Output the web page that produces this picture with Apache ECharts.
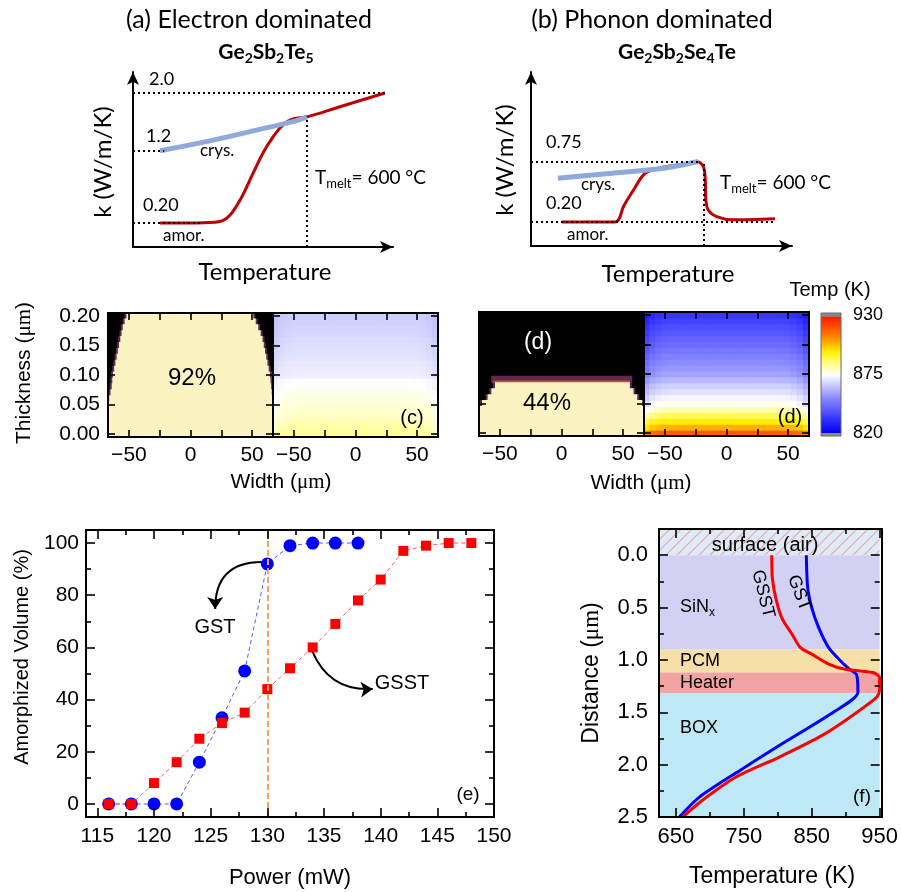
<!DOCTYPE html>
<html>
<head>
<meta charset="utf-8">
<script src="https://cdn.jsdelivr.net/npm/echarts@6.0.0/dist/echarts.min.js"></script>
<style>
html,body{margin:0;padding:0;background:#fff;}
#chart{width:901px;height:892px;}
</style>
</head>
<body>
<div id="chart"></div>
<script>
// ====================== DATA ======================
// (a) schematic k(T) of Ge2Sb2Te5 (temperature in arbitrary units 0-100)
const aAmorTemp = [10.4, 21.9, 31.5, 36.2, 41.2, 46.2, 50.0, 53.8, 57.7, 61.5, 66.9, 79.6, 96.9];
const aAmorK    = [0.20, 0.20, 0.21, 0.27, 0.52, 0.89, 1.17, 1.39, 1.56, 1.64, 1.67, 1.81, 2.00];
const aCrysTemp = [10.4, 25.8, 38.5, 51.5, 62.3, 66.9];
const aCrysK    = [1.20, 1.31, 1.41, 1.52, 1.61, 1.67];
const aLevels    = [2.0, 1.2, 0.20];
const aLevelEnds = [96.9, 12, 27];
const aMelt = [66.9, 1.67];
// (b) schematic k(T) of Ge2Sb2Se4Te
const bAmorTemp = [11.8, 32.2, 33.8, 35.4, 39.2, 43.0, 46.8, 52.0, 58.3, 64.1, 66.0, 66.7, 67.0, 67.9, 71.1, 77.5, 93.5];
const bAmorK    = [0.20, 0.20, 0.23, 0.34, 0.49, 0.63, 0.68, 0.71, 0.73, 0.75, 0.71, 0.62, 0.40, 0.31, 0.25, 0.22, 0.23];
const bCrysTemp = [10.3, 30.0, 50.0, 64.1];
const bCrysK    = [0.60, 0.645, 0.69, 0.755];
const bLevels    = [0.75, 0.20];
const bLevelEnds = [64.8, 93.5];
const bMelt = [66.3, 0.75];

// (c),(d) maps: cell centres
const widthCols = [-65,-60,-55,-50,-45,-40,-35,-30,-25,-20,-15,-10,-5,0,5,10,15,20,25,30,35,40,45,50,55,60,65];
const thickRows = [0.00,0.01,0.02,0.03,0.04,0.05,0.06,0.07,0.08,0.09,0.10,0.11,0.12,0.13,0.14,0.15,0.16,0.17,0.18,0.19,0.20];
// amorphized extent per thickness row (µm)
const gstAmorLeft   = [-67,-67,-67,-67,-67,-67,-66,-65,-64,-63.5,-63,-62,-61,-60,-59,-58,-57,-56,-55,-53.5,-52];
const gstAmorRight  = [67,67,67,67,67,67,66.5,66,65.5,65,64.5,63.5,62.5,61.5,60.5,59.5,58.5,57,55,53,51];
const gsstAmorLeft  = [-67,-67,-67,-67,-66.5,-64.5,-60,-57,-54,null,null,null,null,null,null,null,null,null,null,null,null];
const gsstAmorRight = [67,67,67,67,67,65.5,61.5,58.5,55.5,null,null,null,null,null,null,null,null,null,null,null,null];
const gsstFront = [0.09, -57, 57.5];   // melt-front row (thickness, left, right)
// temperature (K) at the centre of each thickness row, and edge cooling per column
const gstTempCenter  = [883.5,883,881.5,880,879.5,878.5,877.5,877,875.5,875,872,871.5,871,870,869.5,869,868.5,867.5,867,866.5,866];
const gsstTempCenter = [918,905,897,889.5,882,876.5,873.5,869.5,866.5,862,858,855.5,853.5,851,848.5,846,844,841.5,839.5,837,834];
const gstEdgeDrop  = [2.5,1.2,0.5,0.2,0,0,0,0,0,0,0,0,0,0,0,0,0,0,0,0,0,0,0,0.2,0.5,1.2,2.5];
const gsstEdgeDrop = [7,3.5,1.5,0.5,0.2,0,0,0,0,0,0,0,0,0,0,0,0,0,0,0,0,0,0.2,0.5,1.5,3.5,7];
const mapTicksX = [-50,-25,0,25,50];
const mapLabelsX = [-50,0,50];
const mapTicksY = [0,0.05,0.10,0.15,0.20];
const colorbarTicks = [820, 875, 930];

// (e) amorphized volume vs power
const powerGST  = [116,118,120,122,124,126,128,130,132,134,136,138];
const volGST    = [0,0,0,0,16,33,51,92,99,100,100,100];
const powerGSST = [116,118,120,122,124,126,128,130,132,134,136,138,140,142,144,146,148];
const volGSST   = [0,0,8,16,25,31,35,44,52,60,69,78,86,97,99,100,100];
const markPower = 130;
const powerTicks = [115,120,125,130,135,140,145,150];
const powerMinor = [117.5,122.5,127.5,132.5,137.5,142.5,147.5];
const volTicks = [0,20,40,60,80,100];
const volMinor = [10,30,50,70,90];
const gstArrow  = [[129.5, 92.7], [125.4, 74.7]];
const gsstArrow = [[134.0, 58.2], [139.3, 44.1]];

// (f) temperature vs depth
const gsstProfT = [791,792,797,806,821,833,850,875,899,940,950,950,945,899,860,801.5,738,689,660];
const gsstProfD = [0.0,0.22,0.41,0.60,0.755,0.88,0.945,1.04,1.09,1.12,1.17,1.29,1.36,1.58,1.74,1.93,2.12,2.34,2.5];
const gstProfT  = [842,844,850,860,874.6,894,906,916,918,884,801.5,743,684.5,655];
const gstProfD  = [0.0,0.31,0.50,0.69,0.88,1.02,1.09,1.14,1.31,1.49,1.82,2.06,2.31,2.5];
const layerNames  = ['surface (air)','SiNx','PCM','Heater','BOX'];
const layerTop    = [-0.25, 0.0, 0.90, 1.12, 1.32];
const layerBottom = [0.0, 0.90, 1.12, 1.32, 2.5];
const tempTicks = [650,750,850,950];
const tempMinor = [700,800,900];
const distTicks = [0,0.5,1.0,1.5,2.0,2.5];
const distMinor = [0.25,0.75,1.25,1.75,2.25];

// ====================== STYLE / LAYOUT ======================
const S = '"Liberation Sans", Arial, Helvetica, sans-serif';
const SERIF = '"Liberation Serif", "Times New Roman", serif';
const LATO = 'Lato, "Open Sans", sans-serif';
const tempColors = ['#0000f0','#2b2bff','#5a5aff','#8a8aff','#c4c4ff','#ffffff','#ffff80','#ffee00','#ff9900','#ff5500','#ff1a00'];
const layerColors = [null, '#d3d1f3', '#f7dfa9', '#f2a3a3', '#bfe8f7'];
const L = {
  a:{left:133, top:72, width:260, height:175},
  b:{left:531, top:72, width:261, height:174},
  c1:{left:108, top:313, width:165, height:124},
  c2:{left:273, top:313, width:165, height:124},
  d1:{left:479, top:312, width:165, height:124},
  d2:{left:644, top:312, width:165, height:124},
  cb:{left:821, top:313, width:20, height:123},
  e:{left:86, top:530, width:408, height:287},
  f:{left:659, top:529, width:223, height:288}
};
const gridKeys = ['a','b','c1','c2','d1','d2','cb','e','f'];
const GI = {}; gridKeys.forEach((k,i)=>GI[k]=i);
const grids = gridKeys.map(k=>{
  const g = L[k];
  const o = {left:g.left, top:g.top, width:g.width, height:g.height, containLabel:false};
  if (k==='c1' || k==='d1') { o.show = true; o.backgroundColor = '#000'; o.borderWidth = 0; }
  return o;
});

// ---------- axes ----------
const xAxes = [], yAxes = [];
const RANGE = {};
function push(list, o){ list.push(o); return list.length-1; }
function baseAx(gi,min,max,pos,inv){
  return {type:'value', gridIndex:gi, min, max, position:pos, inverse:!!inv,
    axisLine:{show:false, onZero:false}, splitLine:{show:false}, axisLabel:{show:false}, axisTick:{show:false}};
}
function lb(o, vals, size, margin, fmt){ o.axisLabel = {show:true, customValues:vals, fontSize:size, fontFamily:S, color:'#000', margin, formatter:fmt}; return o; }
const minus = v => (v < 0 ? '\u2212' + (-v) : '' + v);
function framed(k, xr, yr, c){
  const gi = GI[k];
  RANGE[k] = {x:xr, y:yr, inv:!!c.yInv};
  const xo = baseAx(gi,xr[0],xr[1],'bottom'); if (c.xLabels) lb(xo, c.xLabels, c.size, c.xMargin, c.xFmt);
  const yo = baseAx(gi,yr[0],yr[1],'left',c.yInv); if (c.yLabels) lb(yo, c.yLabels, c.size, c.yMargin, c.yFmt);
  return [push(xAxes, xo), push(yAxes, yo)];
}
function arrowAxis(gi,min,max){
  return {type:'value', gridIndex:gi, min, max, axisLine:{show:true, onZero:false, symbol:['none','arrow'], symbolSize:[9,13], lineStyle:{color:'#000', width:2}},
    axisTick:{show:false}, axisLabel:{show:false}, splitLine:{show:false}};
}
const AX = {};
AX.a = [push(xAxes, arrowAxis(GI.a,0,100)), push(yAxes, arrowAxis(GI.a,-0.132,2.291))];
AX.b = [push(xAxes, arrowAxis(GI.b,0,100)), push(yAxes, arrowAxis(GI.b,-0.02,1.575))];
const mapX = [-67, 67], mapY = [-0.005, 0.205];
AX.c1 = framed('c1', mapX, mapY, {xLabels:mapLabelsX, size:21, xMargin:8, xFmt:minus, yLabels:mapTicksY, yMargin:8, yFmt:v=>v.toFixed(2)});
AX.c2 = framed('c2', mapX, mapY, {xLabels:mapLabelsX, size:21, xMargin:8, xFmt:minus});
AX.d1 = framed('d1', mapX, mapY, {xLabels:mapLabelsX, size:21, xMargin:8, xFmt:minus});
AX.d2 = framed('d2', mapX, mapY, {xLabels:mapLabelsX, size:21, xMargin:8, xFmt:minus});
AX.cb = [push(xAxes, baseAx(GI.cb,0,1,'bottom')),
  push(yAxes, lb(baseAx(GI.cb,817.2,931.9,'right'), colorbarTicks, 18, 12, v=>''+v))];
AX.e = framed('e', [114,150], [-5,105], {xLabels:powerTicks, size:21, xMargin:9, xFmt:v=>''+v, yLabels:volTicks, yMargin:7, yFmt:v=>''+v});
AX.f = framed('f', [625,950], [-0.25,2.5], {xLabels:tempTicks, size:22, xMargin:9, xFmt:v=>''+v, yInv:true, yLabels:distTicks, yMargin:11, yFmt:v=>v.toFixed(1)});

// ---------- helpers for series ----------
const zip = (a,b) => a.map((v,i)=>[v,b[i]]);
function guides(levels, ends, melt, ymin){
  const d = levels.map((v,i)=>[{coord:[0,v]},{coord:[ends[i],v]}]);
  d.push([{coord:[melt[0],ymin]},{coord:[melt[0],melt[1]]}]);
  return d;
}
// tick marks as markLine segments on the panel's own axes (length converted from px to data units)
function tickSegments(k, xMaj, xMin, yMaj, yMin, majLen, minLen){
  const r = RANGE[k], g = L[k];
  const dxu = (r.x[1]-r.x[0]) / g.width, dyu = (r.y[1]-r.y[0]) / g.height;
  const yB = r.inv ? r.y[1] : r.y[0], yT = r.inv ? r.y[0] : r.y[1], sg = r.inv ? -1 : 1;
  const segs = [];
  const doX = (vals, len) => (vals||[]).forEach(v=>{
    segs.push([{coord:[v, yB]}, {coord:[v, yB + sg*len*dyu]}]);
    segs.push([{coord:[v, yT]}, {coord:[v, yT - sg*len*dyu]}]);
  });
  const doY = (vals, len) => (vals||[]).forEach(v=>{
    segs.push([{coord:[r.x[0], v]}, {coord:[r.x[0] + len*dxu, v]}]);
    segs.push([{coord:[r.x[1], v]}, {coord:[r.x[1] - len*dxu, v]}]);
  });
  doX(xMaj, majLen); doX(xMin, minLen); doY(yMaj, majLen); doY(yMin, minLen);
  return segs;
}
function boxOf(cs){ return {x:cs.x, y:cs.y, width:cs.width, height:cs.height}; }
function cellItem(params, api){
  const x = api.value(0), t = api.value(1);
  const p0 = api.coord([x-2.5, t+0.005]), p1 = api.coord([x+2.5, t-0.005]);
  const r = echarts.graphic.clipRectByRect({x:p0[0]-0.5, y:p0[1]-0.5, width:p1[0]-p0[0]+1, height:p1[1]-p0[1]+1}, boxOf(params.coordSys));
  return r ? {type:'rect', shape:r, style:{fill:api.visual('color')}} : null;
}
// mode 'fringe' draws the dark melt boundary, mode 'core' the amorphous interior
function amorItemFactory(mode){
  return function(params, api){
    const t = api.value(0), l = api.value(1), r = api.value(2), kind = api.value(3);
    const box = boxOf(params.coordSys);
    const mk = (a,b,fill,h0,h1) => { const p0 = api.coord([a, t+h0]), p1 = api.coord([b, t-h1]);
      const rc = echarts.graphic.clipRectByRect({x:p0[0], y:p0[1]-0.5, width:p1[0]-p0[0], height:p1[1]-p0[1]+1}, box);
      return rc ? {type:'rect', shape:rc, style:{fill}} : null; };
    const kids = [];
    if (mode === 'fringe') {
      if (kind === 1) kids.push(mk(l-1.6, r+1.6, '#5c2b52', 0.005, 0.005));
      else { kids.push(mk(l, r, '#5e2a4e', 0.006, 0.005)); kids.push(mk(l+2, r-2, '#b5553e', -0.002, 0.005)); }
    } else if (kind === 1) kids.push(mk(l, r, '#fbf3c2', 0.005, 0.005));
    return {type:'group', children:kids.filter(Boolean)};
  };
}
function buildAmor(left, right, front){
  const d = [];
  thickRows.forEach((t,i)=>{ if (left[i] != null) d.push([t, left[i], right[i], 1]); });
  if (front) d.push([front[0], front[1], front[2], 2]);
  return d;
}
function buildTemp(center, drop){
  const d = [];
  thickRows.forEach((t,i)=> widthCols.forEach((x,j)=> d.push([x, t, center[i]-drop[j]])));
  return d;
}
function hatchCanvas(){
  const n = 11, c = document.createElement('canvas'); c.width = n; c.height = n;
  const g = c.getContext('2d'); g.fillStyle = '#dcebf7'; g.fillRect(0,0,n,n);
  g.strokeStyle = '#f0a4a4'; g.lineWidth = 1.1; g.beginPath();
  g.moveTo(-1, n+1); g.lineTo(n+1, -1); g.moveTo(-1, 1); g.lineTo(1, -1); g.moveTo(n-1, n+1); g.lineTo(n+1, n-1); g.stroke();
  return c;
}
const hatch = {image: hatchCanvas(), repeat:'repeat'};
function bandItem(params, api){
  const top = api.value(0), bot = api.value(1), i = api.value(2);
  const cs = params.coordSys;
  const y0 = api.coord([800, top])[1], y1 = api.coord([800, bot])[1];
  const r = echarts.graphic.clipRectByRect({x:cs.x, y:Math.min(y0,y1), width:cs.width, height:Math.abs(y1-y0)}, boxOf(cs));
  return r ? {type:'rect', shape:r, style:{fill: i === 0 ? hatch : layerColors[i]}} : null;
}
function colorbarItem(params, api){
  const cs = params.coordSys;
  const yTop = api.coord([0.5, 928.5])[1], yBot = api.coord([0.5, 820])[1];
  const stops = tempColors.map((c,i)=>({offset:i/(tempColors.length-1), color:c}));
  return {type:'group', children:[
    {type:'rect', shape:{x:cs.x, y:cs.y, width:cs.width, height:cs.height}, style:{fill:'#8a8a8a'}},
    {type:'rect', shape:{x:cs.x, y:yTop, width:cs.width, height:yBot-yTop}, style:{fill:new echarts.graphic.LinearGradient(0,1,0,0,stops)}}
  ]};
}

// ---------- series ----------
const series = [];
function add(s){ series.push(s); return series.length-1; }
const lineCommon = {type:'line', showSymbol:false, symbol:'none', silent:true};
function tickSeries(axPair, segs, color, width){
  return add(Object.assign({}, lineCommon, {xAxisIndex:axPair[0], yAxisIndex:axPair[1], data:[], clip:false, z:6,
    markLine:{silent:true, symbol:'none', label:{show:false}, z:6, animation:false,
      lineStyle:{color:color||'#000', type:'solid', width:width||1.6, opacity:1}, emphasis:{disabled:true}, data:segs}}));
}
// (a)
add(Object.assign({}, lineCommon, {xAxisIndex:AX.a[0], yAxisIndex:AX.a[1], data:[],
  markLine:{silent:true, symbol:'none', label:{show:false}, lineStyle:{color:'#000', type:[2,3], width:2}, data:guides(aLevels, aLevelEnds, aMelt, -0.132)}}));
add(Object.assign({}, lineCommon, {xAxisIndex:AX.a[0], yAxisIndex:AX.a[1], data:zip(aAmorTemp,aAmorK), smooth:0.4, lineStyle:{color:'#c00000', width:3}}));
add(Object.assign({}, lineCommon, {xAxisIndex:AX.a[0], yAxisIndex:AX.a[1], data:zip(aCrysTemp,aCrysK), smooth:0.3, lineStyle:{color:'#8eaadb', width:5}}));
// (b)
add(Object.assign({}, lineCommon, {xAxisIndex:AX.b[0], yAxisIndex:AX.b[1], data:[],
  markLine:{silent:true, symbol:'none', label:{show:false}, lineStyle:{color:'#000', type:[2,3], width:2}, data:guides(bLevels, bLevelEnds, bMelt, -0.02)}}));
add(Object.assign({}, lineCommon, {xAxisIndex:AX.b[0], yAxisIndex:AX.b[1], data:zip(bAmorTemp,bAmorK), smooth:0.3, lineStyle:{color:'#c00000', width:3}}));
add(Object.assign({}, lineCommon, {xAxisIndex:AX.b[0], yAxisIndex:AX.b[1], data:zip(bCrysTemp,bCrysK), smooth:0.3, lineStyle:{color:'#8eaadb', width:5}}));
// (c),(d) maps
const gstAmorData = buildAmor(gstAmorLeft, gstAmorRight, null);
const gsstAmorData = buildAmor(gsstAmorLeft, gsstAmorRight, gsstFront);
add({type:'custom', xAxisIndex:AX.c1[0], yAxisIndex:AX.c1[1], renderItem:amorItemFactory('fringe'), data:gstAmorData, silent:true, clip:true});
add({type:'custom', xAxisIndex:AX.c1[0], yAxisIndex:AX.c1[1], renderItem:amorItemFactory('core'), data:gstAmorData, silent:true, clip:true});
const tC = add({type:'custom', xAxisIndex:AX.c2[0], yAxisIndex:AX.c2[1], renderItem:cellItem, data:buildTemp(gstTempCenter, gstEdgeDrop), silent:true, clip:true});
add({type:'custom', xAxisIndex:AX.d1[0], yAxisIndex:AX.d1[1], renderItem:amorItemFactory('fringe'), data:gsstAmorData, silent:true, clip:true});
add({type:'custom', xAxisIndex:AX.d1[0], yAxisIndex:AX.d1[1], renderItem:amorItemFactory('core'), data:gsstAmorData, silent:true, clip:true});
const tD = add({type:'custom', xAxisIndex:AX.d2[0], yAxisIndex:AX.d2[1], renderItem:cellItem, data:buildTemp(gsstTempCenter, gsstEdgeDrop), silent:true, clip:true});
add({type:'custom', xAxisIndex:AX.cb[0], yAxisIndex:AX.cb[1], renderItem:colorbarItem, data:[[0.5, 875]], silent:true});
['c1','c2','d1','d2'].forEach(k=>tickSeries(AX[k], tickSegments(k, mapTicksX, null, mapTicksY, null, 7, 7)));
tickSeries(AX.cb, colorbarTicks.map(v=>[{coord:[1, v]}, {coord:[1.3, v]}]), '#555', 1.2);
// (e)
add(Object.assign({}, lineCommon, {xAxisIndex:AX.e[0], yAxisIndex:AX.e[1], data:[],
  markLine:{silent:true, symbol:'none', label:{show:false}, lineStyle:{color:'#f4a460', type:[6,3], width:2}, data:[{xAxis:markPower}]}}));
add({type:'line', xAxisIndex:AX.e[0], yAxisIndex:AX.e[1], data:zip(powerGST,volGST), symbol:'circle', symbolSize:13, showSymbol:true,
  itemStyle:{color:'#0000ff'}, lineStyle:{color:'#4d5dff', width:1, type:[4,3]}, silent:true});
add({type:'line', xAxisIndex:AX.e[0], yAxisIndex:AX.e[1], data:zip(powerGSST,volGSST), symbol:'rect', symbolSize:10, showSymbol:true,
  itemStyle:{color:'#ff0000'}, lineStyle:{color:'#ff5c5c', width:1, type:[4,3]}, silent:true});
add({type:'lines', coordinateSystem:'cartesian2d', xAxisIndex:AX.e[0], yAxisIndex:AX.e[1], data:[{coords:gstArrow}],
  symbol:['none','arrow'], symbolSize:12, lineStyle:{color:'#000', width:2, curveness:-0.5, opacity:1}, silent:true});
add({type:'lines', coordinateSystem:'cartesian2d', xAxisIndex:AX.e[0], yAxisIndex:AX.e[1], data:[{coords:gsstArrow}],
  symbol:['none','arrow'], symbolSize:12, lineStyle:{color:'#000', width:2, curveness:-0.35, opacity:1}, silent:true});
tickSeries(AX.e, tickSegments('e', powerTicks, powerMinor, volTicks, volMinor, 9, 5));
// (f)
add({type:'custom', xAxisIndex:AX.f[0], yAxisIndex:AX.f[1], renderItem:bandItem, data:layerTop.map((t,i)=>[t, layerBottom[i], i]), silent:true, clip:true});
add(Object.assign({}, lineCommon, {xAxisIndex:AX.f[0], yAxisIndex:AX.f[1], data:zip(gstProfT,gstProfD), smooth:0.25, lineStyle:{color:'#0000ff', width:3}}));
add(Object.assign({}, lineCommon, {xAxisIndex:AX.f[0], yAxisIndex:AX.f[1], data:zip(gsstProfT,gsstProfD), smooth:0.25, lineStyle:{color:'#ff0000', width:3}}));
tickSeries(AX.f, tickSegments('f', tempTicks, tempMinor, distTicks, distMinor, 9, 5));

// ---------- text / frames ----------
function subRich(fam, size, sub, weight){
  return {
    n:{fontFamily:fam, fontSize:size, fontWeight:weight||'normal', lineHeight:size+6},
    s:{fontFamily:fam, fontSize:sub, fontWeight:weight||'normal', lineHeight:Math.round(0.4*size+6), verticalAlign:'bottom'},
    m:{fontFamily:SERIF, fontSize:size, lineHeight:size+6}
  };
}
function T(x, y, text, size, o){
  o = o || {};
  const st = {text, fill:o.color||'#000', fontSize:size, fontFamily:o.family||S, fontWeight:o.weight||'normal',
    align:o.align||'center', verticalAlign:'middle'};
  if (o.rich) st.rich = o.rich;
  return {type:'text', x, y, rotation:o.rot||0, z:100, silent:true, style:st};
}
const R = Math.PI/2;
const gfx = [
  T(249,20,'(a) Electron dominated',25,{family:LATO}),
  T(266,52,'{n|Ge}{s|2}{n|Sb}{s|2}{n|Te}{s|5}',21,{rich:subRich(LATO,21,14,'bold')}),
  T(149,79,'2.0',18,{family:LATO, align:'left'}),
  T(146,136,'1.2',18,{family:LATO, align:'left'}),
  T(143,205,'0.20',18,{family:LATO, align:'left'}),
  T(200,151,'crys.',17,{family:LATO, align:'left'}),
  T(163,236,'amor.',17,{family:LATO, align:'left'}),
  T(315,178,'{n|T}{s|melt}{n|= 600 °C}',19,{align:'left', rich:subRich(LATO,19,13)}),
  T(103,162,'k (W/m/K)',24,{family:LATO, rot:R}),
  T(265,272,'Temperature',24,{family:LATO}),

  T(652,20,'(b) Phonon dominated',25,{family:LATO}),
  T(677,52,'{n|Ge}{s|2}{n|Sb}{s|2}{n|Se}{s|4}{n|Te}',21,{rich:subRich(LATO,21,14,'bold')}),
  T(546,142,'0.75',18,{family:LATO, align:'left'}),
  T(546,203,'0.20',18,{family:LATO, align:'left'}),
  T(581,185,'crys.',17,{family:LATO, align:'left'}),
  T(567,235,'amor.',17,{family:LATO, align:'left'}),
  T(720,183,'{n|T}{s|melt}{n|= 600 °C}',19,{align:'left', rich:subRich(LATO,19,13)}),
  T(505,160,'k (W/m/K)',24,{family:LATO, rot:R}),
  T(668,274,'Temperature',24,{family:LATO}),

  T(24,373,'{n|Thickness (}{m|μm}{n|)}',21,{rot:R, rich:subRich(S,21,14)}),
  T(281,482,'{n|Width (}{m|μm}{n|)}',21,{rich:subRich(S,21,14)}),
  T(192,378,'92%',24),
  T(412,418,'(c)',20),
  T(538,343,'(d)',23,{color:'#fff'}),
  T(547,403,'44%',24),
  T(790,417,'(d)',20),
  T(641,483,'{n|Width (}{m|μm}{n|)}',21,{rich:subRich(S,21,14)}),
  T(830,290,'Temp (K)',20),

  T(22,657,'Amorphized Volume (%)',20,{rot:R}),
  T(290,878,'Power (mW)',22),
  T(215,627,'GST',20),
  T(402,683,'GSST',20),
  T(468,795,'(e)',19),

  T(592,673,'{n|Distance (}{m|μm}{n|)}',23,{rot:R, rich:subRich(S,23,15)}),
  T(772,877,'Temperature (K)',23),
  T(765,545,'surface (air)',20),
  T(680,607,'{n|SiN}{s|x}',18,{align:'left', rich:subRich(S,18,12)}),
  T(680,661,'PCM',18,{align:'left'}),
  T(680,683,'Heater',18,{align:'left'}),
  T(680,728,'BOX',18,{align:'left'}),
  T(862,797,'(f)',19),
  T(763,594,'GSST',18,{rot:-1.33}),
  T(799,593,'GST',18,{rot:-1.2})
];
['c1','c2','d1','d2','e','f'].forEach(k=>{
  const g = L[k];
  gfx.push({type:'rect', z:50, silent:true, shape:{x:g.left, y:g.top, width:g.width, height:g.height}, style:{fill:'none', stroke:'#000', lineWidth:2}});
});
gfx.push({type:'rect', z:50, silent:true, shape:{x:L.cb.left, y:L.cb.top, width:L.cb.width, height:L.cb.height}, style:{fill:'none', stroke:'#6a6a6a', lineWidth:1}});

const option = {
  animation:false,
  backgroundColor:'#fff',
  grid:grids,
  xAxis:xAxes,
  yAxis:yAxes,
  visualMap:[{type:'continuous', show:false, min:820, max:930, dimension:2, seriesIndex:[tC, tD], inRange:{color:tempColors}}],
  series:series,
  graphic:{elements:gfx}
};
const chart = echarts.init(document.getElementById('chart'), null, {renderer:'canvas', width:901, height:892});
chart.setOption(option);
</script>
</body>
</html>
